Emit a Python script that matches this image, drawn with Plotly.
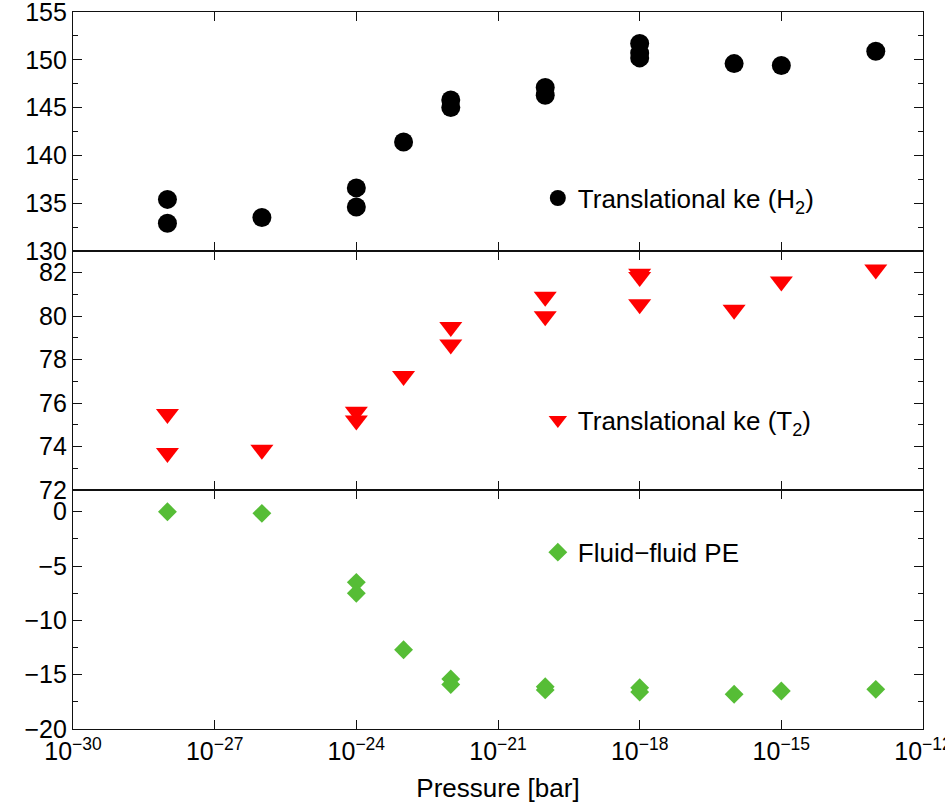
import plotly.graph_objects as go
from plotly.subplots import make_subplots

# ---- data ----
h2_pressure = [1e-28, 1e-28, 1e-26, 1e-24, 1e-24, 1e-23, 1e-22, 1e-22,
               1e-20, 1e-20, 1e-18, 1e-18, 1e-18, 1e-16, 1e-15, 1e-13]
h2_ke = [135.4, 132.9, 133.5, 136.6, 134.6, 141.4, 145.8, 145.0,
         147.1, 146.3, 151.7, 150.7, 150.2, 149.6, 149.4, 150.9]

t2_pressure = [1e-28, 1e-28, 1e-26, 1e-24, 1e-24, 1e-23, 1e-22, 1e-22,
               1e-20, 1e-20, 1e-18, 1e-18, 1e-18, 1e-16, 1e-15, 1e-13]
t2_ke = [75.5, 73.7, 73.85, 75.6, 75.2, 77.25, 79.5, 78.7,
         80.9, 80.0, 81.95, 81.8, 80.55, 80.3, 81.6, 82.15]

pe_pressure = [1e-28, 1e-26, 1e-24, 1e-24, 1e-23, 1e-22, 1e-22,
               1e-20, 1e-20, 1e-18, 1e-18, 1e-16, 1e-15, 1e-13]
pe_ff = [0.0, -0.15, -6.5, -7.5, -12.7, -15.4, -15.9,
         -16.1, -16.4, -16.2, -16.6, -16.8, -16.5, -16.35]

x_tick_vals = [1e-30, 1e-27, 1e-24, 1e-21, 1e-18, 1e-15, 1e-12]
x_tick_text = ["10<sup>−30</sup>", "10<sup>−27</sup>", "10<sup>−24</sup>",
               "10<sup>−21</sup>", "10<sup>−18</sup>", "10<sup>−15</sup>",
               "10<sup>−12</sup>"]

series_names = ["Translational ke (H<sub>2</sub>)",
                "Translational ke (T<sub>2</sub>)",
                "Fluid−fluid PE"]

FONT = "Liberation Sans, Arial, sans-serif"
LINE = "#111111"
GREEN = "#56BD36"
TICKSZ = 25
TEXTSZ = 26

fig = make_subplots(rows=3, cols=1, shared_xaxes=True, vertical_spacing=0)

fig.add_trace(go.Scatter(x=h2_pressure, y=h2_ke, mode="markers",
                         name=series_names[0], legend="legend",
                         marker=dict(symbol="circle", size=19, color="black")),
              row=1, col=1)
fig.add_trace(go.Scatter(x=t2_pressure, y=t2_ke, mode="markers",
                         name=series_names[1], legend="legend2",
                         marker=dict(symbol="triangle-down", size=20, color="#FF0000")),
              row=2, col=1)
fig.add_trace(go.Scatter(x=pe_pressure, y=pe_ff, mode="markers",
                         name=series_names[2], legend="legend3",
                         marker=dict(symbol="diamond", size=14.5, color=GREEN)),
              row=3, col=1)

xcommon = dict(type="log", range=[-30, -12], tickmode="array",
               tickvals=x_tick_vals, ticktext=x_tick_text,
               ticks="inside", ticklen=9, tickwidth=1, tickcolor=LINE,
               showline=True, linecolor=LINE, linewidth=1.2, mirror="ticks",
               showgrid=False, zeroline=False, ticklabeloverflow="allow",
               automargin=False,
               tickfont=dict(family=FONT, size=TICKSZ, color="black"))
for r in (1, 2, 3):
    fig.update_xaxes(**xcommon, row=r, col=1)
fig.update_xaxes(title=dict(text="Pressure [bar]",
                            font=dict(family=FONT, size=TEXTSZ, color="black"),
                            standoff=14), row=3, col=1)

ycommon = dict(ticks="inside", ticklen=9, tickwidth=1, tickcolor=LINE,
               showline=True, linecolor=LINE, linewidth=1.2, mirror="ticks",
               showgrid=False, zeroline=False, ticklabeloverflow="allow",
               automargin=False,
               tickfont=dict(family=FONT, size=TICKSZ, color="black"))
fig.update_yaxes(**ycommon, range=[130, 155], dtick=5, tick0=130,
                 minor=dict(dtick=2.5, ticks="inside", ticklen=5, tickcolor=LINE, showgrid=False),
                 row=1, col=1)
fig.update_yaxes(**ycommon, range=[72, 83], dtick=2, tick0=72,
                 minor=dict(dtick=1, ticks="inside", ticklen=5, tickcolor=LINE, showgrid=False),
                 row=2, col=1)
fig.update_yaxes(**ycommon, range=[-20, 2], dtick=5, tick0=-20,
                 minor=dict(dtick=2.5, ticks="inside", ticklen=5, tickcolor=LINE, showgrid=False),
                 row=3, col=1)

plot_w = 945 - 73 - 21.7
plot_h = 809 - 12 - 80.3
lx = (538 - 73) / plot_w
leg = dict(x=lx, xanchor="left", yanchor="middle", bgcolor="rgba(0,0,0,0)",
           borderwidth=0, font=dict(family=FONT, size=TEXTSZ, color="black"),
           itemwidth=30)
fig.update_layout(
    width=945, height=809,
    margin=dict(l=73, r=21.7, t=12, b=80.3, autoexpand=False),
    paper_bgcolor="white", plot_bgcolor="white",
    showlegend=True,
    legend=dict(**leg, y=(728.7 - 198) / plot_h),
    legend2=dict(**leg, y=(728.7 - 420) / plot_h),
    legend3=dict(**leg, y=(728.7 - 552) / plot_h),
    font=dict(family=FONT, size=TEXTSZ, color="black"),
)

fig.write_html("out.html")
